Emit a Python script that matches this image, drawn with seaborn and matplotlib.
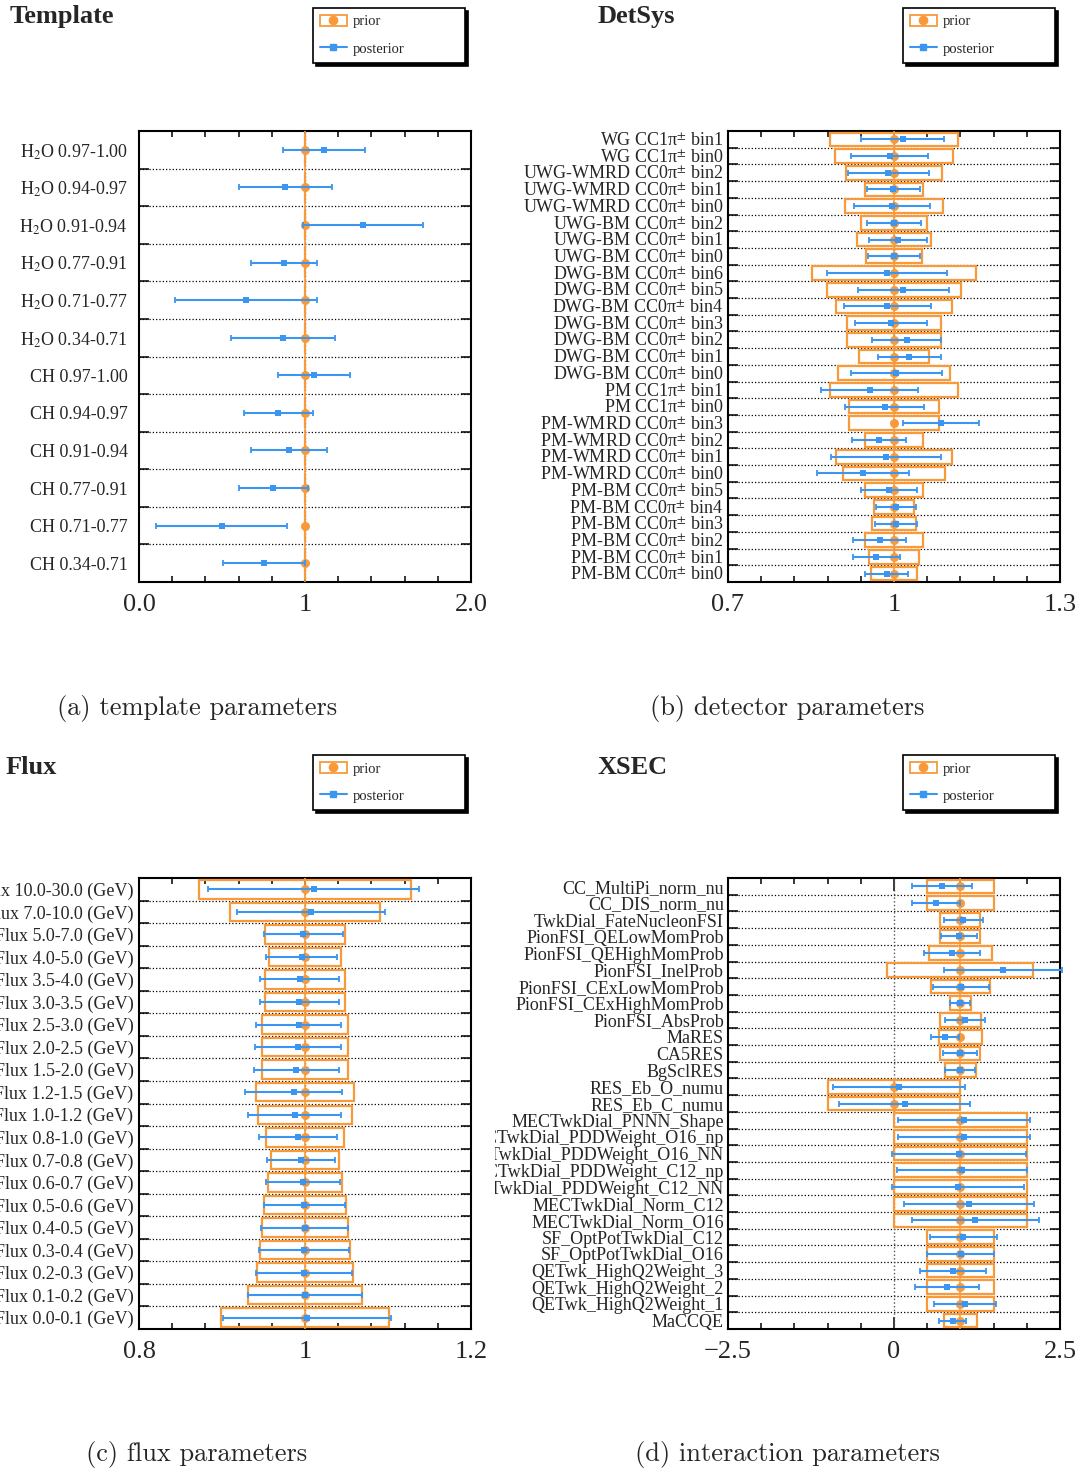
import numpy as np
import pandas as pd
import seaborn as sns
import matplotlib.pyplot as plt
from matplotlib.lines import Line2D
from matplotlib.patches import Rectangle
from matplotlib.transforms import Bbox, TransformedBbox

sns.set_style("ticks")
plt.rcParams['font.family'] = ['Liberation Serif', 'DejaVu Serif']
plt.rcParams['mathtext.fontset'] = 'stix'

ORANGE = '#F89A3A'
BLUE = '#3A96F0'

# ---- (a) template parameters ----
tmpl_names = ['H$_2$O 0.97-1.00', 'H$_2$O 0.94-0.97', 'H$_2$O 0.91-0.94', 'H$_2$O 0.77-0.91',
              'H$_2$O 0.71-0.77', 'H$_2$O 0.34-0.71', 'CH 0.97-1.00', 'CH 0.94-0.97',
              'CH 0.91-0.94', 'CH 0.77-0.91', 'CH 0.71-0.77', 'CH 0.34-0.71']
tmpl_prior = [1, 1, 1, 1, 1, 1, 1, 1, 1, 1, 1, 1]
tmpl_prior_err = [0, 0, 0, 0, 0, 0, 0, 0, 0, 0, 0, 0]
tmpl_post = [1.115, 0.88, 1.348, 0.873, 0.646, 0.867, 1.053, 0.84, 0.905, 0.81, 0.498, 0.754]
tmpl_post_err = [0.245, 0.28, 0.362, 0.2, 0.427, 0.314, 0.218, 0.21, 0.23, 0.21, 0.393, 0.246]

# ---- (b) detector parameters ----
det_names = ['WG CC1π$^{\\pm}$ bin1', 'WG CC1π$^{\\pm}$ bin0',
             'UWG-WMRD CC0π$^{\\pm}$ bin2', 'UWG-WMRD CC0π$^{\\pm}$ bin1', 'UWG-WMRD CC0π$^{\\pm}$ bin0',
             'UWG-BM CC0π$^{\\pm}$ bin2', 'UWG-BM CC0π$^{\\pm}$ bin1', 'UWG-BM CC0π$^{\\pm}$ bin0',
             'DWG-BM CC0π$^{\\pm}$ bin6', 'DWG-BM CC0π$^{\\pm}$ bin5', 'DWG-BM CC0π$^{\\pm}$ bin4',
             'DWG-BM CC0π$^{\\pm}$ bin3', 'DWG-BM CC0π$^{\\pm}$ bin2', 'DWG-BM CC0π$^{\\pm}$ bin1',
             'DWG-BM CC0π$^{\\pm}$ bin0', 'PM CC1π$^{\\pm}$ bin1', 'PM CC1π$^{\\pm}$ bin0',
             'PM-WMRD CC0π$^{\\pm}$ bin3', 'PM-WMRD CC0π$^{\\pm}$ bin2', 'PM-WMRD CC0π$^{\\pm}$ bin1',
             'PM-WMRD CC0π$^{\\pm}$ bin0', 'PM-BM CC0π$^{\\pm}$ bin5', 'PM-BM CC0π$^{\\pm}$ bin4',
             'PM-BM CC0π$^{\\pm}$ bin3', 'PM-BM CC0π$^{\\pm}$ bin2', 'PM-BM CC0π$^{\\pm}$ bin1',
             'PM-BM CC0π$^{\\pm}$ bin0']
det_prior = [1, 1, 1, 1, 1, 1, 1, 1, 1, 1, 1, 1, 1, 1, 1, 1, 1, 1, 1, 1, 1, 1, 1, 1, 1, 1, 1]
det_prior_err = [0.116, 0.1075, 0.087, 0.052, 0.089, 0.060, 0.066, 0.051, 0.149, 0.121, 0.104,
                 0.085, 0.085, 0.064, 0.101, 0.116, 0.081, 0.082, 0.052, 0.1055, 0.093, 0.053,
                 0.037, 0.039, 0.052, 0.0455, 0.041]
det_post = [1.016, 0.992, 0.990, 0.999, 0.996, 1.0005, 1.007, 1.0, 0.987, 1.017, 0.988, 0.994,
            1.023, 1.028, 1.0045, 0.956, 0.983, 1.085, 0.9735, 0.9855, 0.944, 0.991, 1.003,
            1.0035, 0.974, 0.968, 0.987]
det_post_err = [0.075, 0.069, 0.074, 0.048, 0.069, 0.049, 0.052, 0.047, 0.108, 0.082, 0.079,
                0.065, 0.062, 0.057, 0.082, 0.088, 0.071, 0.068, 0.049, 0.0995, 0.083, 0.050,
                0.036, 0.0375, 0.048, 0.042, 0.039]

# ---- (c) flux parameters ----
flux_names = ['Flux 10.0-30.0 (GeV)', 'Flux 7.0-10.0 (GeV)', 'Flux 5.0-7.0 (GeV)', 'Flux 4.0-5.0 (GeV)',
              'Flux 3.5-4.0 (GeV)', 'Flux 3.0-3.5 (GeV)', 'Flux 2.5-3.0 (GeV)', 'Flux 2.0-2.5 (GeV)',
              'Flux 1.5-2.0 (GeV)', 'Flux 1.2-1.5 (GeV)', 'Flux 1.0-1.2 (GeV)', 'Flux 0.8-1.0 (GeV)',
              'Flux 0.7-0.8 (GeV)', 'Flux 0.6-0.7 (GeV)', 'Flux 0.5-0.6 (GeV)', 'Flux 0.4-0.5 (GeV)',
              'Flux 0.3-0.4 (GeV)', 'Flux 0.2-0.3 (GeV)', 'Flux 0.1-0.2 (GeV)', 'Flux 0.0-0.1 (GeV)']
flux_prior = [1, 1, 1, 1, 1, 1, 1, 1, 1, 1, 1, 1, 1, 1, 1, 1, 1, 1, 1, 1]
flux_prior_err = [0.1276, 0.0898, 0.0487, 0.043, 0.0478, 0.048, 0.0515, 0.0515, 0.0513, 0.0589,
                  0.0565, 0.0466, 0.0414, 0.045, 0.0488, 0.052, 0.0543, 0.0583, 0.069, 0.1015]
flux_post = [1.0107, 1.007, 0.998, 0.9958, 0.9934, 0.9932, 0.9924, 0.9916, 0.9897, 0.9863,
             0.9875, 0.9914, 0.9948, 0.9974, 0.9992, 0.9994, 0.9988, 0.9988, 0.9996, 1.0022]
flux_post_err = [0.127, 0.0895, 0.048, 0.0428, 0.0476, 0.048, 0.0515, 0.0515, 0.0513, 0.0587,
                 0.0563, 0.0468, 0.041, 0.0448, 0.0486, 0.052, 0.0539, 0.0583, 0.0688, 0.1011]

# ---- (d) interaction parameters ----
xsec_names = ['CC_MultiPi_norm_nu', 'CC_DIS_norm_nu', 'TwkDial_FateNucleonFSI', 'PionFSI_QELowMomProb',
              'PionFSI_QEHighMomProb', 'PionFSI_InelProb', 'PionFSI_CExLowMomProb',
              'PionFSI_CExHighMomProb', 'PionFSI_AbsProb', 'MaRES', 'CA5RES', 'BgSclRES',
              'RES_Eb_O_numu', 'RES_Eb_C_numu', 'MECTwkDial_PNNN_Shape', 'MECTwkDial_PDDWeight_O16_np',
              'MECTwkDial_PDDWeight_O16_NN', 'MECTwkDial_PDDWeight_C12_np', 'MECTwkDial_PDDWeight_C12_NN',
              'MECTwkDial_Norm_C12', 'MECTwkDial_Norm_O16', 'SF_OptPotTwkDial_C12', 'SF_OptPotTwkDial_O16',
              'QETwk_HighQ2Weight_3', 'QETwk_HighQ2Weight_2', 'QETwk_HighQ2Weight_1', 'MaCCQE']
xsec_prior = [1, 1, 1, 1, 1, 1, 1, 1, 1, 1, 1, 1, 0, 0, 1, 1, 1, 1, 1, 1, 1, 1, 1, 1, 1, 1, 1]
xsec_prior_err = [0.5, 0.5, 0.3, 0.3, 0.47, 1.1, 0.44, 0.16, 0.31, 0.32, 0.3, 0.233, 1.0, 1.0,
                  1.0, 1.0, 1.0, 1.0, 1.0, 1.0, 1.0, 0.5, 0.5, 0.5, 0.5, 0.5, 0.246]
xsec_post = [0.722, 0.636, 1.044, 0.978, 0.872, 1.643, 1.009, 1.0, 1.072, 0.768, 0.989, 0.995,
             0.077, 0.16, 1.052, 1.055, 0.983, 1.018, 0.966, 1.132, 1.227, 1.046, 1.003, 0.886,
             0.794, 1.072, 0.883]
xsec_post_err = [0.447, 0.361, 0.298, 0.272, 0.419, 0.886, 0.424, 0.152, 0.298, 0.218, 0.255,
                 0.232, 0.989, 0.986, 0.995, 0.992, 1.012, 0.978, 0.995, 0.977, 0.958, 0.502,
                 0.505, 0.496, 0.485, 0.464, 0.206]

W, H = 1086, 1472
fig = plt.figure(figsize=(W / 100, H / 100), dpi=100)


def draw_panel(ax, names, prior, prior_err, post, post_err, xlim, xlabels, label_pad):
    n = len(names)
    df = pd.DataFrame({'row': np.arange(n), 'prior': prior, 'prior_err': prior_err,
                       'post': post, 'post_err': post_err})

    # prior boxes, prior row lines, prior markers
    ax.barh(df['row'], 2 * df['prior_err'], left=df['prior'] - df['prior_err'], height=0.82,
            facecolor='none', edgecolor=ORANGE, linewidth=1.6, zorder=3)
    ax.vlines(df['prior'], df['row'] - 0.5, df['row'] + 0.5, color=ORANGE, linewidth=1.2, zorder=3)
    sns.scatterplot(data=df, x='prior', y='row', ax=ax, marker='o', color=ORANGE, s=42,
                    linewidth=0, zorder=4, legend=False)

    # posterior
    ax.errorbar(df['post'], df['row'], xerr=df['post_err'], fmt='none', ecolor=BLUE,
                elinewidth=1.5, capsize=2.3, capthick=1.3, zorder=5, clip_on=False)
    sns.scatterplot(data=df, x='post', y='row', ax=ax, marker='s', color=BLUE, s=24,
                    linewidth=0, zorder=6, legend=False)

    lo, hi = xlim
    mid = (lo + hi) / 2
    ax.axvline(mid, color='#555555', linestyle=':', linewidth=1.0, zorder=1)
    ax.set_xlim(lo, hi)
    ax.set_ylim(n - 0.5, -0.5)
    ax.set_xlabel('')
    ax.set_ylabel('')

    ax.set_xticks([lo, mid, hi])
    ax.set_xticklabels(xlabels, fontsize=19)
    ax.set_xticks(np.linspace(lo, hi, 11), minor=True)
    ax.tick_params(axis='x', which='both', direction='in', top=True, bottom=True, width=1.1,
                   color='black', pad=9)
    ax.tick_params(axis='x', which='major', length=9)
    ax.tick_params(axis='x', which='minor', length=4.5)

    ax.set_yticks(np.arange(n))
    ax.set_yticklabels(names, fontsize=13)
    ax.set_yticks(np.arange(0.5, n - 0.5, 1), minor=True)
    ax.tick_params(axis='y', which='major', length=0, pad=label_pad)
    ax.tick_params(axis='y', which='minor', direction='in', left=True, right=True, length=7,
                   width=1.1, color='black')
    ax.grid(which='minor', axis='y', color='black', linestyle=':', linewidth=0.9)
    ax.grid(which='major', visible=False)
    for sp in ax.spines.values():
        sp.set_visible(True)
        sp.set_color('black')
        sp.set_linewidth(1.5)


def add_legend(x0, y0):
    prior_handle = (Rectangle((0, 0), 1, 1, facecolor='white', edgecolor=ORANGE, linewidth=1.3),
                    Line2D([], [], marker='o', color=ORANGE, linestyle='none', markersize=6))
    post_handle = Line2D([], [], marker='s', color=BLUE, linewidth=1.5, markersize=4.5)
    leg = fig.legend([prior_handle, post_handle], ['prior', 'posterior'], loc='upper left',
                     bbox_to_anchor=(x0 / W, 1 - (y0 + 55) / H, 152 / W, 55 / H), mode='expand',
                     fontsize=10.5, frameon=True, fancybox=False, shadow={'color': 'black', 'alpha': 1},
                     edgecolor='black', framealpha=1, borderpad=0.5, labelspacing=0.95,
                     handlelength=1.8, handletextpad=0.45, borderaxespad=0)
    leg.get_frame().set_linewidth(1.2)


panels = [
    dict(names=tmpl_names, prior=tmpl_prior, prior_err=tmpl_prior_err, post=tmpl_post,
         post_err=tmpl_post_err, xlim=(0.0, 2.0), xlabels=['0.0', '1', '2.0'], pad=8,
         left=139, top=131, title='Template', tx=10, ty=17, legx=313, legy=8,
         cap='(a) template parameters', cx=197, cy=708),
    dict(names=det_names, prior=det_prior, prior_err=det_prior_err, post=det_post,
         post_err=det_post_err, xlim=(0.7, 1.3), xlabels=['0.7', '1', '1.3'], pad=3,
         left=728, top=131, title='DetSys', tx=598, ty=17, legx=903, legy=8,
         cap='(b) detector parameters', cx=787, cy=708),
    dict(names=flux_names, prior=flux_prior, prior_err=flux_prior_err, post=flux_post,
         post_err=flux_post_err, xlim=(0.8, 1.2), xlabels=['0.8', '1', '1.2'], pad=4,
         left=139, top=878, title='Flux', tx=6, ty=767, legx=313, legy=755,
         cap='(c) flux parameters', cx=197, cy=1455),
    dict(names=xsec_names, prior=xsec_prior, prior_err=xsec_prior_err, post=xsec_post,
         post_err=xsec_post_err, xlim=(-2.5, 2.5), xlabels=['\u22122.5', '0', '2.5'], pad=3,
         left=728, top=878, title='XSEC', tx=598, ty=767, legx=903, legy=755,
         cap='(d) interaction parameters', cx=787, cy=1455),
]

axes = []
for p in panels:
    ax = fig.add_axes([p['left'] / W, 1 - (p['top'] + 451) / H, 332 / W, 451 / H])
    draw_panel(ax, p['names'], p['prior'], p['prior_err'], p['post'], p['post_err'],
               p['xlim'], p['xlabels'], p['pad'])
    fig.text(p['tx'] / W, 1 - p['ty'] / H, p['title'], fontsize=19, fontweight='bold',
             ha='left', va='center')
    add_legend(p['legx'], p['legy'])
    fig.text(p['cx'] / W, 1 - p['cy'] / H, p['cap'], fontsize=19, family='cmr10',
             ha='center', va='center')
    axes.append(ax)

# the interaction panel labels are cut at the sub-figure edge
clip = TransformedBbox(Bbox([[495 / W, 0], [1, 1]]), fig.transFigure)
for lbl in axes[3].get_yticklabels():
    lbl.set_clip_box(clip)
    lbl.set_clip_on(True)

fig.savefig('out.png', dpi=100)
